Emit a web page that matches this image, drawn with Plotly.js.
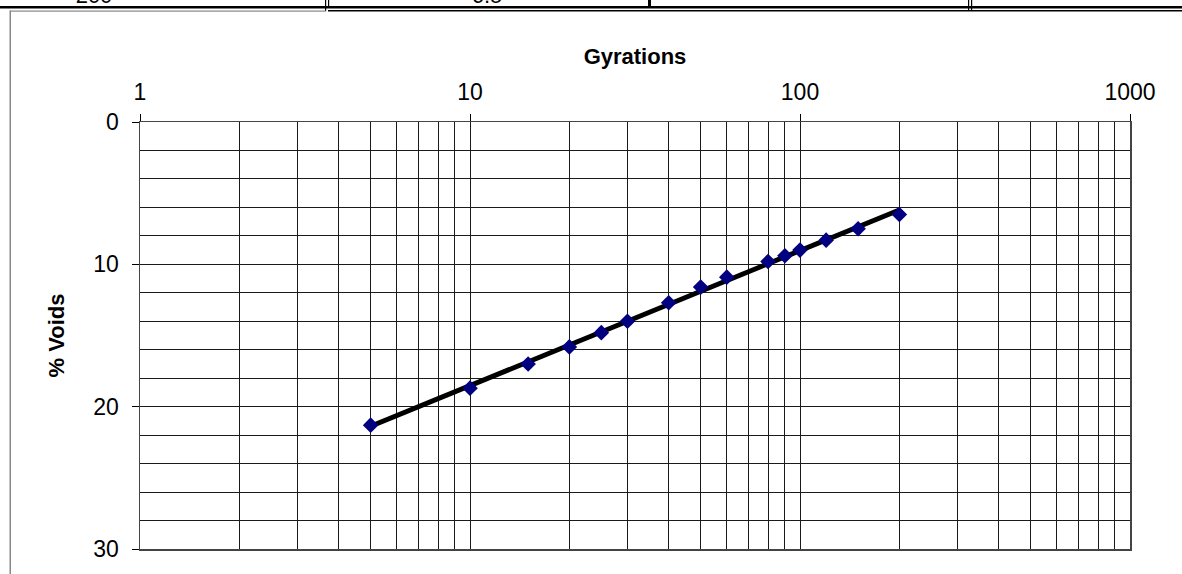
<!DOCTYPE html>
<html>
<head>
<meta charset="utf-8">
<script src="https://cdn.plot.ly/plotly-3.0.1.min.js"></script>
<style>
  html, body { margin: 0; padding: 0; background: #fff; }
  #wrap { position: relative; width: 1182px; height: 574px; overflow: hidden; }
  #chart { position: absolute; left: 0; top: 0; width: 1182px; height: 574px; }
  #deco { position: absolute; left: 0; top: 0; width: 1182px; height: 574px; pointer-events: none; }
</style>
</head>
<body>
<div id="wrap">
  <div id="chart"></div>
  <svg id="deco" width="1182" height="574" xmlns="http://www.w3.org/2000/svg">
    <!-- cut-off table above the chart (only the bottom of its last row shows) -->
    <text x="94" y="3" text-anchor="middle" font-family="Liberation Sans, Arial, sans-serif" font-size="22" fill="#000">200</text>
    <text x="487" y="3" text-anchor="middle" font-family="Liberation Sans, Arial, sans-serif" font-size="22" fill="#000">6.5</text>
    <rect x="0" y="6" width="1182" height="2.5" fill="#000"/>
    <rect x="328" y="10" width="854" height="1.5" fill="#000"/>
    <rect x="325" y="0" width="1.2" height="11" fill="#000"/>
    <rect x="328" y="0" width="1.2" height="8" fill="#000"/>
    <rect x="648" y="0" width="3" height="7" fill="#000"/>
    <rect x="968" y="0" width="1.2" height="11" fill="#000"/>
    <rect x="971" y="0" width="1.2" height="11" fill="#000"/>
    <!-- chart frame -->
    <rect x="10" y="10.5" width="316" height="1.2" fill="#888"/>
    <rect x="9.5" y="10.5" width="1.5" height="564" fill="#888"/>
  </svg>
</div>
<script>
// Data
var gyrations = [5, 10, 15, 20, 25, 30, 40, 50, 60, 80, 90, 100, 120, 150, 200];
var voids = [21.3, 18.7, 17.0, 15.8, 14.8, 14.0, 12.7, 11.6, 10.9, 9.8, 9.4, 9.0, 8.3, 7.5, 6.5];
var xTickVals = [1, 10, 100, 1000];
var xTickText = ['1', '10', '100', '1000'];
var yTickVals = [0, 10, 20, 30];

// logarithmic trend line (least squares on log10 x)
var n = gyrations.length, sx = 0, sy = 0, sxx = 0, sxy = 0;
for (var i = 0; i < n; i++) {
  var lx = Math.log10(gyrations[i]);
  sx += lx; sy += voids[i]; sxx += lx * lx; sxy += lx * voids[i];
}
var slope = (n * sxy - sx * sy) / (n * sxx - sx * sx);
var icpt = (sy - slope * sx) / n;
var xMin = Math.min.apply(null, gyrations), xMax = Math.max.apply(null, gyrations);
var trendX = [xMin, xMax];
var trendY = trendX.map(function (v) { return icpt + slope * Math.log10(v); });

// minor gridline positions for log axis (2..9 per decade)
var minorX = [];
[1, 10, 100].forEach(function (d) { for (var k = 2; k <= 9; k++) minorX.push(d * k); });

var font = 'Liberation Sans, Arial, sans-serif';

var traces = [
  {
    x: trendX, y: trendY, type: 'scatter', mode: 'lines',
    line: { color: '#000', width: 5 }, hoverinfo: 'skip', showlegend: false
  },
  {
    x: gyrations, y: voids, type: 'scatter', mode: 'markers',
    marker: { symbol: 'diamond', color: '#000080', size: 12 }, showlegend: false
  }
];

var layout = {
  width: 1182, height: 574,
  margin: { l: 140, r: 52, t: 122, b: 25, pad: 0 },
  paper_bgcolor: 'rgba(0,0,0,0)', plot_bgcolor: '#fff',
  font: { family: font, color: '#000', size: 23 },
  showlegend: false,
  xaxis: {
    type: 'log', range: [0, 3], side: 'top',
    tickmode: 'array', tickvals: xTickVals, ticktext: xTickText,
    ticks: 'outside', ticklen: 7, tickwidth: 1, tickcolor: '#000',
    tickfont: { size: 23, family: font, color: '#000' },
    ticklabelstandoff: 4,
    showline: true, linecolor: '#444', linewidth: 1.5, mirror: true,
    showgrid: true, gridcolor: '#1a1a1a', gridwidth: 1,
    minor: { tickmode: 'array', tickvals: minorX, showgrid: true, gridcolor: '#1a1a1a', gridwidth: 1, ticks: '' },
    zeroline: false,
    title: { text: 'Gyrations', font: { size: 22, family: font, color: '#000', weight: 'bold' }, standoff: 8 }
  },
  yaxis: {
    range: [30, 0],
    tickmode: 'array', tickvals: yTickVals,
    ticks: 'outside', ticklen: 7, tickwidth: 1, tickcolor: '#000',
    tickfont: { size: 23, family: font, color: '#000' },
    ticklabelstandoff: 8,
    showline: true, linecolor: '#444', linewidth: 1.5, mirror: true,
    showgrid: true, gridcolor: '#1a1a1a', gridwidth: 1,
    minor: { dtick: 2, showgrid: true, gridcolor: '#1a1a1a', gridwidth: 1, ticks: '' },
    zeroline: false,
    title: { text: '% Voids', font: { size: 22, family: font, color: '#000', weight: 'bold' }, standoff: 22 }
  }
};

Plotly.newPlot('chart', traces, layout, { staticPlot: true, displayModeBar: false });
</script>
</body>
</html>
